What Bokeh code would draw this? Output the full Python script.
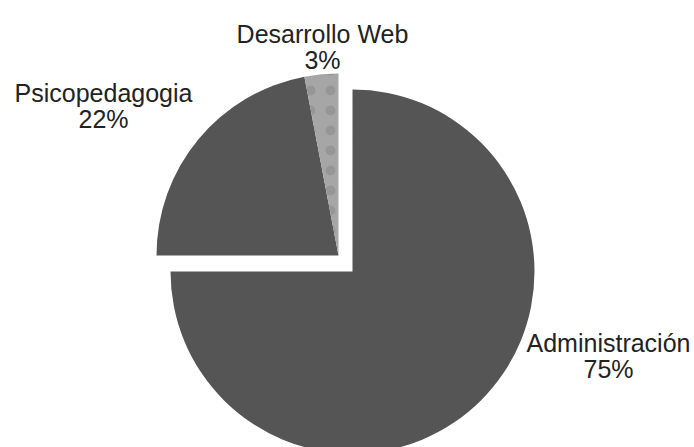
import numpy as np
from bokeh.plotting import figure
from bokeh.models import ColumnDataSource, Range1d
from bokeh.core.properties import value
from bokeh.embed import file_html
from bokeh.resources import INLINE

# ---- data ----
categories = ["Administración", "Psicopedagogia", "Desarrollo Web"]
percentages = [75, 22, 3]

# ---- styles / layout ----
W, H = 694, 447
colors = ["#555555", "#555555", "#a6a6a6"]
hatches = [" ", " ", "."]
exploded = [False, True, True]
cx, cy = 352, H - 271
R = 182
explode_dx, explode_dy = -14, 16
label_x = [608, 103, 322]
label_base = [H - 342, H - 92, H - 33]
line_gap = 26

vals = np.array(percentages, dtype=float)
frac = vals / vals.sum()
ends = np.pi / 2 - 2 * np.pi * np.cumsum(frac)
starts = np.concatenate([[np.pi / 2], ends[:-1]])

xs = [cx + (explode_dx if e else 0) for e in exploded]
ys = [cy + (explode_dy if e else 0) for e in exploded]

src = ColumnDataSource(dict(
    x=xs, y=ys, start=starts, end=ends, color=colors, hatch=hatches,
    name=categories, pct=[f"{v}%" for v in percentages],
    lx=label_x, ly=label_base, ly2=[b - line_gap for b in label_base],
))

p = figure(width=W, height=H, x_range=Range1d(0, W), y_range=Range1d(0, H),
           x_axis_type=None, y_axis_type=None, toolbar_location=None,
           output_backend="svg", min_border=0)
p.grid.visible = False
p.outline_line_color = None
p.background_fill_color = "white"

p.wedge(x="x", y="y", radius=R, start_angle="start", end_angle="end",
        direction="clock", fill_color="color", line_color=None,
        hatch_pattern="hatch", hatch_color="#555555", hatch_alpha=0.2,
        hatch_scale=20, hatch_weight=0.3, source=src)

common = dict(text_align="center", text_baseline="alphabetic",
              text_font=value("Liberation Sans"), text_font_size="25px",
              text_color="#222222", source=src)
p.text(x="lx", y="ly", text="name", **common)
p.text(x="lx", y="ly2", text="pct", **common)

open("out.html", "w").write(file_html(p, INLINE))
